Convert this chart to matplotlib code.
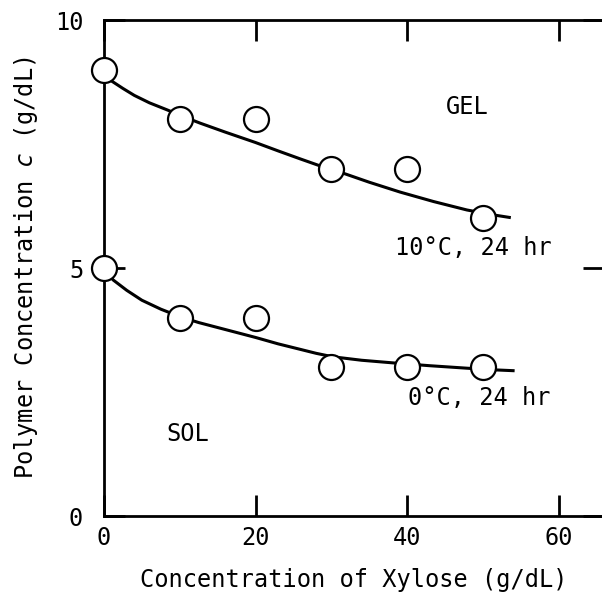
import matplotlib.pyplot as plt

# measured points (circles)
xylose = [0, 10, 20, 30, 40, 50]
c_10C = [9, 8, 8, 7, 7, 6]
c_0C = [5, 4, 4, 3, 3, 3]

# smooth curves
curve10_x = [0, 0.8, 2.5, 4, 6, 8.3, 10.5, 12.7, 16, 20, 23, 25.9, 28.5, 31.6, 35, 39.1, 43.5, 47.9, 51, 53.5]
curve10_y = [8.95, 8.79, 8.62, 8.48, 8.33, 8.19, 8.05, 7.92, 7.74, 7.53, 7.36, 7.2, 7.06, 6.91, 6.73, 6.53, 6.34, 6.17, 6.08, 6.02]
curve0_x = [0, 1.2, 3, 5, 7.5, 10, 12.5, 15, 17.5, 20, 23, 25.9, 28, 30.2, 34, 38.7, 43, 47.9, 51, 54]
curve0_y = [5.0, 4.76, 4.55, 4.35, 4.17, 4.02, 3.9, 3.8, 3.7, 3.6, 3.47, 3.36, 3.28, 3.21, 3.14, 3.08, 3.03, 2.98, 2.95, 2.93]

plt.rcParams['font.family'] = 'DejaVu Sans Mono'

fig = plt.figure(figsize=(6.02, 5.96), dpi=100)
ax = fig.add_axes([104/602, 80/596, 500/602, 496/596])

ax.plot(curve10_x, curve10_y, color='black', lw=2.2, zorder=2)
ax.plot(curve0_x, curve0_y, color='black', lw=2.2, zorder=2)
ax.plot(xylose, c_10C, 'o', ms=18, mfc='white', mec='black', mew=1.6, zorder=5, clip_on=False)
ax.plot(xylose, c_0C, 'o', ms=18, mfc='white', mec='black', mew=1.6, zorder=5, clip_on=False)

ax.set_xlim(0, 66)
ax.set_ylim(0, 10)
ax.set_xticks([0, 20, 40, 60])
ax.set_yticks([0, 5, 10])
ax.tick_params(direction='in', length=15, width=2, labelsize=17,
               top=True, right=True)
ax.tick_params(axis='x', pad=7)
ax.tick_params(axis='y', pad=15)
for s in ax.spines.values():
    s.set_linewidth(2)

ax.text(47.9, 8.25, 'GEL', fontsize=17, ha='center', va='center')
ax.text(48.7, 5.4, '10°C, 24 hr', fontsize=17, ha='center', va='center')
ax.text(49.5, 2.38, '0°C, 24 hr', fontsize=17, ha='center', va='center')
ax.text(11.1, 1.65, 'SOL', fontsize=17, ha='center', va='center')

ax.set_xlabel('Concentration of Xylose (g/dL)', fontsize=17, labelpad=13)
ax.set_ylabel('Polymer Concentration $c$ (g/dL)', fontsize=17)
ax.yaxis.set_label_coords(-0.128, 0.5)

fig.savefig('out.png', dpi=100)
